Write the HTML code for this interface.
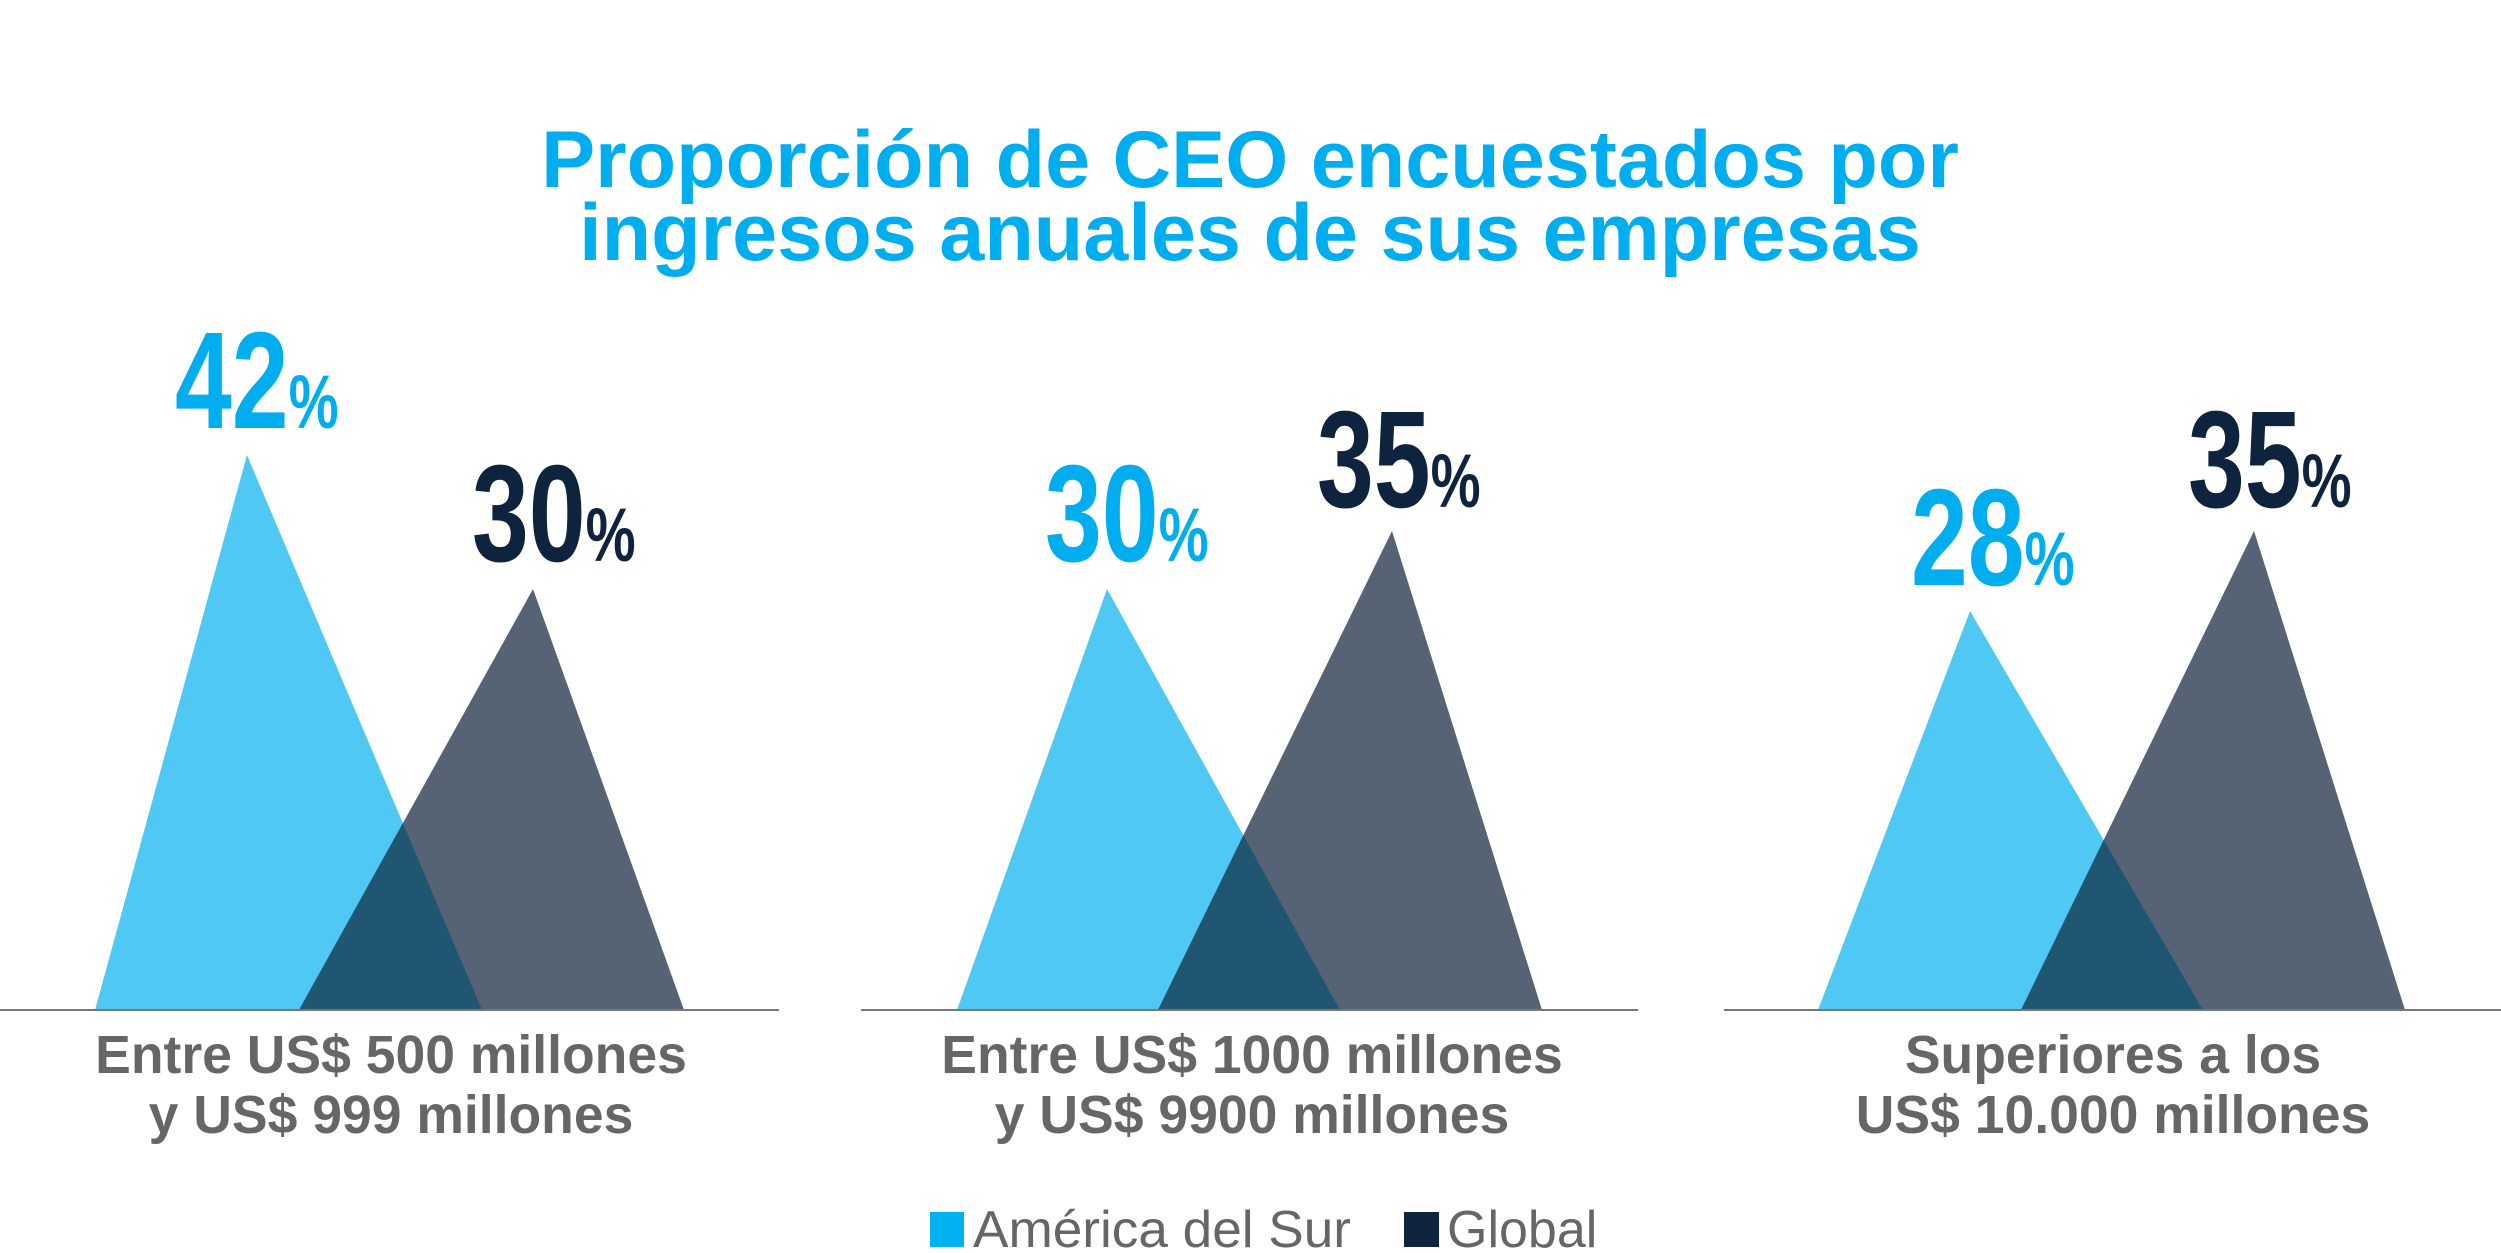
<!DOCTYPE html>
<html><head><meta charset="utf-8"><style>
html,body{margin:0;padding:0;background:#fff;}
svg{display:block;}
</style></head><body>
<svg width="2501" height="1253" viewBox="0 0 2501 1253" xmlns="http://www.w3.org/2000/svg">
<defs>
<clipPath id="c1"><polygon points="95,1010 247,455 482,1010"/></clipPath>
<clipPath id="c2"><polygon points="957,1010 1107,589 1340,1010"/></clipPath>
<clipPath id="c3"><polygon points="1818,1010 1970,611 2203,1010"/></clipPath>
</defs>
<g font-family="Liberation Sans, sans-serif" font-weight="bold" fill="#00aeef" font-size="81" text-anchor="middle">
<text x="1250" y="187">Proporción de CEO encuestados por</text>
<text x="1250" y="260">ingresos anuales de sus empresas</text>
</g>
<g>
<polygon points="95,1010 247,455 482,1010" fill="#4fc9f3"/>
<polygon points="299,1010 533,589 684,1010" fill="#556375"/>
<polygon points="299,1010 533,589 684,1010" fill="#215673" clip-path="url(#c1)"/>
<line x1="0" y1="1010" x2="779" y2="1010" stroke="#777" stroke-width="2"/>

<polygon points="957,1010 1107,589 1340,1010" fill="#4fc9f3"/>
<polygon points="1158,1010 1392,531 1542,1010" fill="#556375"/>
<polygon points="1158,1010 1392,531 1542,1010" fill="#215673" clip-path="url(#c2)"/>
<line x1="861" y1="1010" x2="1638" y2="1010" stroke="#777" stroke-width="2"/>

<polygon points="1818,1010 1970,611 2203,1010" fill="#4fc9f3"/>
<polygon points="2021,1010 2254,531 2405,1010" fill="#556375"/>
<polygon points="2021,1010 2254,531 2405,1010" fill="#215673" clip-path="url(#c3)"/>
<line x1="1724" y1="1010" x2="2501" y2="1010" stroke="#777" stroke-width="2"/>
</g>
<g font-family="Liberation Sans Narrow, Liberation Sans, sans-serif" font-weight="bold" font-size="138">
<text transform="translate(175,428) scale(0.74,1)" fill="#00aeef">42<tspan font-size="76">%</tspan></text>
<text transform="translate(472,561) scale(0.74,1)" fill="#0e233d">30<tspan font-size="76">%</tspan></text>
<text transform="translate(1045,561) scale(0.74,1)" fill="#00aeef">30<tspan font-size="76">%</tspan></text>
<text transform="translate(1317,507) scale(0.74,1)" fill="#0e233d">35<tspan font-size="76">%</tspan></text>
<text transform="translate(1911,585) scale(0.74,1)" fill="#00aeef">28<tspan font-size="76">%</tspan></text>
<text transform="translate(2188,507) scale(0.74,1)" fill="#0e233d">35<tspan font-size="76">%</tspan></text>
</g>
<g font-family="Liberation Sans, sans-serif" font-weight="bold" fill="#666" font-size="53.5" text-anchor="middle">
<text x="391" y="1073">Entre US$ 500 millones</text>
<text x="391" y="1133">y US$ 999 millones</text>
<text x="1252" y="1073">Entre US$ 1000 millones</text>
<text x="1252" y="1133">y US$ 9900 millones</text>
<text x="2113" y="1073">Superiores a los</text>
<text x="2113" y="1133">US$ 10.000 millones</text>
</g>
<rect x="930" y="1212" width="34" height="35" fill="#00b2ef"/>
<rect x="1404" y="1212" width="35" height="35" fill="#0e233d"/>
<g font-family="Liberation Sans Narrow, Liberation Sans, sans-serif" fill="#666" font-size="52">
<text x="973" y="1247" textLength="378" lengthAdjust="spacingAndGlyphs">América del Sur</text>
<text x="1447" y="1247">Global</text>
</g>
</svg>
</body></html>
